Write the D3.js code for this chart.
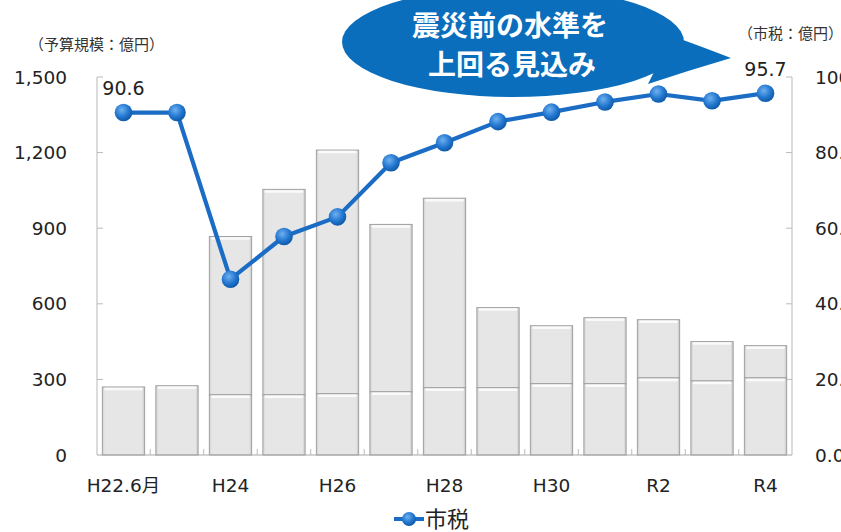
<!DOCTYPE html>
<html><head><meta charset="utf-8">
<script src="https://cdn.jsdelivr.net/npm/d3@7"></script>
<style>
html,body{margin:0;padding:0;background:#fff;overflow:hidden;}
text{font-family:"DejaVu Sans","Noto Sans CJK JP",sans-serif;}
.cjk{font-family:"Noto Sans CJK JP","DejaVu Sans",sans-serif;}
</style></head>
<body>
<svg id="c" width="841" height="532"></svg>
<script>
const categories = ["H22.6月","H23","H24","H25","H26","H27","H28","H29","H30","R1","R2","R3","R4"];
const xTickLabels = ["H22.6月","","H24","","H26","","H28","","H30","","R2","","R4"];
const budgetTotal = [270, 275, 867, 1054, 1210, 915, 1019, 585, 513, 545, 537, 450, 434];
const budgetLower = [null, null, 239, 239, 243, 251, 267, 267, 283, 283, 306, 294, 306];
const cityTax = [90.6, 90.6, 46.5, 57.8, 63.0, 77.3, 82.6, 88.2, 90.7, 93.4, 95.5, 93.7, 95.7];
const leftTicks = [0, 300, 600, 900, 1200, 1500];
const rightTicks = [0, 20, 40, 60, 80, 100];
const rightTickLabels = ["0.0","20.0","40.0","60.0","80.0","100.0"];

const svg = d3.select("#c");
const L = 97, R = 792, T = 77, B = 455;

const x = d3.scaleBand().domain(categories).range([L, R]).paddingInner(0.21).paddingOuter(0.1);
const yL = d3.scaleLinear().domain([0, 1500]).range([B, T]);
const yR = d3.scaleLinear().domain([0, 100]).range([B, T]);

const defs = svg.append("defs");
const bg = defs.append("linearGradient").attr("id","barg").attr("x1","0").attr("x2","1").attr("y1","0").attr("y2","0");
bg.append("stop").attr("offset","0").attr("stop-color","#cfcfcf");
bg.append("stop").attr("offset","0.06").attr("stop-color","#e6e6e6");
bg.append("stop").attr("offset","0.94").attr("stop-color","#e6e6e6");
bg.append("stop").attr("offset","1").attr("stop-color","#c4c4c4");
const mg = defs.append("radialGradient").attr("id","mkg").attr("cx","0.4").attr("cy","0.35").attr("r","0.65");
mg.append("stop").attr("offset","0").attr("stop-color","#6fb0f0");
mg.append("stop").attr("offset","0.6").attr("stop-color","#2478d0");
mg.append("stop").attr("offset","1").attr("stop-color","#0e5aa8");

// axes lines
svg.append("line").attr("x1",L).attr("x2",L).attr("y1",T).attr("y2",B).attr("stroke","#c8c8c8").attr("stroke-width",1.3);
svg.append("line").attr("x1",R).attr("x2",R).attr("y1",T).attr("y2",B).attr("stroke","#c8c8c8").attr("stroke-width",1.3);

// left ticks
svg.append("g").selectAll("line").data(leftTicks.filter(d=>d>0)).join("line")
  .attr("x1",L).attr("x2",L+6).attr("y1",d=>yL(d)).attr("y2",d=>yL(d)).attr("stroke","#bbb");
svg.append("g").selectAll("text").data(leftTicks).join("text")
  .attr("x",67).attr("y",d=>yL(d)).attr("dy","0.36em").attr("text-anchor","end")
  .attr("font-size",18.5).attr("fill","#222").text(d=>d3.format(",")(d));
// right ticks
svg.append("g").selectAll("line").data(rightTicks.filter(d=>d>0)).join("line")
  .attr("x1",R-6).attr("x2",R).attr("y1",d=>yR(d)).attr("y2",d=>yR(d)).attr("stroke","#bbb");
svg.append("g").selectAll("text").data(rightTicks).join("text")
  .attr("x",815).attr("y",d=>yR(d)).attr("dy","0.36em").attr("text-anchor","start")
  .attr("font-size",18.5).attr("fill","#222").text((d,i)=>rightTickLabels[i]);

// bars
const bw = x.bandwidth();
function drawSeg(g, x0, y0, y1){
  g.append("rect").attr("x",x0).attr("y",y0).attr("width",bw).attr("height",y1-y0)
    .attr("fill","url(#barg)").attr("stroke","#a0a0a0").attr("stroke-width",1);
  g.append("line").attr("x1",x0+3).attr("x2",x0+bw-3).attr("y1",y0+2).attr("y2",y0+2)
    .attr("stroke","#fafafa").attr("stroke-width",2.5).attr("stroke-linecap","round");
}
const gb = svg.append("g");
categories.forEach((c,i)=>{
  const x0 = x(c);
  if(budgetLower[i]!=null){
    drawSeg(gb, x0, yL(budgetTotal[i]), yL(budgetLower[i]));
    drawSeg(gb, x0, yL(budgetLower[i]), yL(0));
  } else {
    drawSeg(gb, x0, yL(budgetTotal[i]), yL(0));
  }
});

// x axis baseline and ticks
svg.append("line").attr("x1",L).attr("x2",R).attr("y1",B).attr("y2",B).attr("stroke","#a8a8a8").attr("stroke-width",1.2);
const step = x.step();
svg.append("g").selectAll("line").data(categories.slice(1)).join("line")
  .attr("x1",d=>x(d)-x.paddingInner()*step/2).attr("x2",d=>x(d)-x.paddingInner()*step/2)
  .attr("y1",B-6).attr("y2",B).attr("stroke","#bbb");
svg.append("g").selectAll("text").data(categories).join("text")
  .attr("x",d=>x(d)+bw/2).attr("y",485).attr("dy","0.36em").attr("text-anchor","middle")
  .attr("font-size",18.5).attr("fill","#222").text((d,i)=>xTickLabels[i]);

// line
const line = d3.line().x((d,i)=>x(categories[i])+bw/2).y(d=>yR(d));
svg.append("path").datum(cityTax).attr("d",line).attr("fill","none")
  .attr("stroke","#1a6cc4").attr("stroke-width",4.2).attr("stroke-linejoin","round");
svg.append("g").selectAll("circle").data(cityTax).join("circle")
  .attr("cx",(d,i)=>x(categories[i])+bw/2).attr("cy",d=>yR(d)).attr("r",8.8)
  .attr("fill","url(#mkg)");

// data labels
const lastI = cityTax.length-1;
svg.append("text").attr("x",x(categories[0])+bw/2).attr("y",yR(cityTax[0])-24).attr("dy","0.36em")
  .attr("text-anchor","middle").attr("font-size",19).attr("fill","#222").text(cityTax[0].toFixed(1));
svg.append("text").attr("x",x(categories[lastI])+bw/2).attr("y",yR(cityTax[lastI])-24).attr("dy","0.36em")
  .attr("text-anchor","middle").attr("font-size",19).attr("fill","#222").text(cityTax[lastI].toFixed(1));

// axis titles
svg.append("text").attr("class","cjk").attr("x",29).attr("y",45).attr("dy","0.36em").attr("font-size",15).attr("fill","#333").text("（予算規模：億円）");
svg.append("text").attr("class","cjk").attr("x",738).attr("y",34).attr("dy","0.36em").attr("font-size",15).attr("fill","#333").text("（市税：億円）");

// callout
const cg = svg.append("g");
cg.append("path").attr("d","M 672 36 Q 700 46 731 58 Q 690 70 648 84 Z").attr("fill","#0a6ebd");
cg.append("ellipse").attr("cx",513).attr("cy",42).attr("rx",171).attr("ry",55).attr("fill","#0a6ebd");
cg.append("text").attr("class","cjk").attr("x",510).attr("y",26).attr("dy","0.36em").attr("text-anchor","middle")
  .attr("font-size",28).attr("font-weight","bold").attr("fill","#fff").text("震災前の水準を");
cg.append("text").attr("class","cjk").attr("x",512).attr("y",65).attr("dy","0.36em").attr("text-anchor","middle")
  .attr("font-size",28).attr("font-weight","bold").attr("fill","#fff").text("上回る見込み");

// legend
const lg = svg.append("g");
lg.append("line").attr("x1",394).attr("x2",424).attr("y1",519).attr("y2",519).attr("stroke","#1a6cc4").attr("stroke-width",4);
lg.append("circle").attr("cx",409).attr("cy",519).attr("r",7).attr("fill","url(#mkg)");
lg.append("text").attr("class","cjk").attr("x",425).attr("y",519).attr("dy","0.36em").attr("font-size",22).attr("fill","#222").text("市税");
</script>
</body></html>
